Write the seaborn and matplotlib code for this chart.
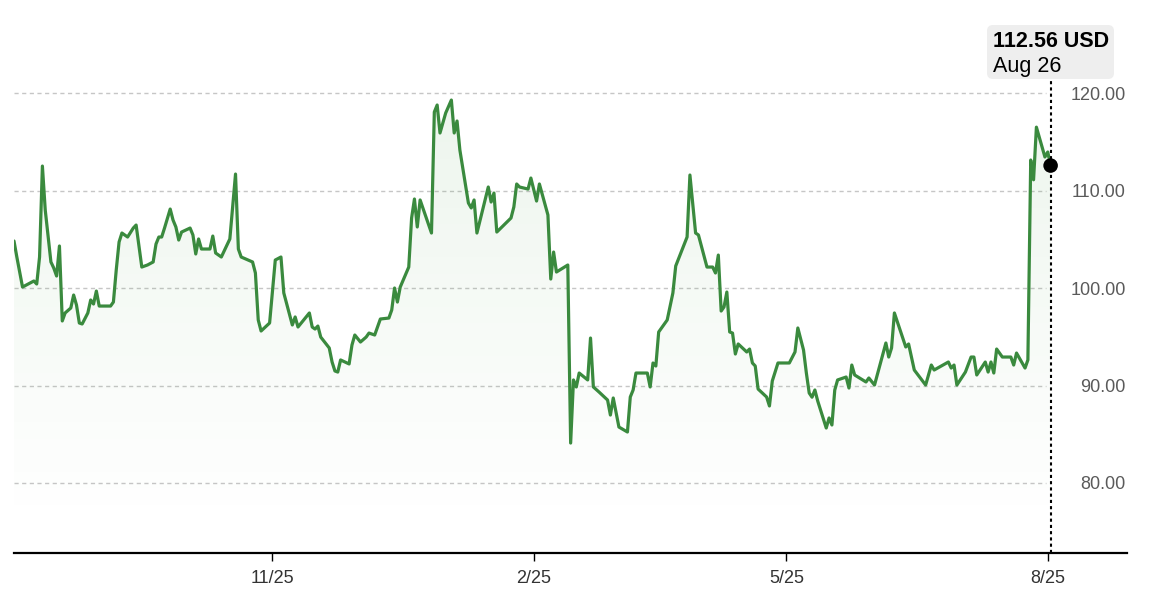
import numpy as np
import pandas as pd
import matplotlib
matplotlib.use("Agg")
import matplotlib.pyplot as plt
import matplotlib.dates as mdates
from matplotlib.patches import FancyBboxPatch
from matplotlib.colors import LinearSegmentedColormap
import seaborn as sns

# ---------------- data ----------------
start_date = "2024-08-26"
day_offsets = [
    0, 1, 3, 5, 7, 8, 9, 10, 11, 13,
    14, 15, 16, 17, 18, 20, 21, 22, 23, 24,
    26, 27, 28, 29, 30, 34, 35, 36, 37, 38,
    40, 42, 43, 45, 47, 49, 50, 51, 52, 53,
    55, 56, 57, 58, 59, 62, 63, 64, 65, 66,
    69, 70, 71, 73, 76, 78, 79, 80, 84, 85,
    86, 87, 90, 92, 94, 95, 98, 99, 100, 104,
    105, 106, 107, 108, 111, 112, 113, 114, 115, 118,
    119, 120, 122, 124, 125, 127, 129, 132, 133, 134,
    135, 136, 139, 140, 141, 142, 143, 147, 148, 149,
    150, 152, 154, 155, 156, 157, 160, 161, 162, 163,
    167, 168, 169, 170, 175, 176, 177, 178, 181, 182,
    184, 185, 188, 189, 190, 191, 195, 196, 197, 198,
    199, 202, 203, 204, 206, 209, 210, 211, 213, 216,
    217, 218, 219, 223, 224, 225, 226, 227, 230, 232,
    233, 237, 238, 240, 241, 244, 246, 247, 248, 249,
    250, 251, 252, 253, 254, 255, 258, 259, 260, 261,
    262, 265, 266, 267, 269, 273, 275, 276, 278, 279,
    280, 281, 282, 283, 286, 287, 288, 289, 290, 293,
    294, 295, 296, 300, 301, 303, 307, 308, 309, 310,
    314, 315, 317, 321, 323, 324, 329, 330, 331, 332,
    335, 337, 338, 339, 342, 343, 344, 345, 346, 348,
    351, 352, 353, 356, 357, 358, 359, 360, 363, 364,
    365,
]
prices = [
    104.82, 103.18, 100.10, 100.41, 100.72, 100.41, 103.18, 112.51, 108.0, 102.67,
    102.05, 101.23, 104.31, 96.62, 97.44, 97.95, 99.28, 98.26, 96.41, 96.31,
    97.44, 98.77, 98.36, 99.69, 98.15, 98.15, 98.56, 101.85, 104.72, 105.64,
    105.23, 106.15, 106.46, 102.15, 102.36, 102.67, 104.51, 105.23, 105.23, 106.15,
    108.10, 106.97, 106.26, 104.92, 105.74, 106.15, 105.44, 103.49, 105.03, 104.0,
    104.0, 105.33, 103.59, 103.18, 105.03, 111.69, 104.0, 103.18, 102.67, 101.54,
    96.72, 95.59, 96.41, 102.87, 103.18, 99.49, 96.21, 97.03, 96.0, 97.44,
    96.0, 95.79, 96.10, 94.97, 93.85, 92.41, 91.49, 91.38, 92.62, 92.21,
    94.15, 95.18, 94.46, 94.97, 95.38, 95.18, 96.82, 96.92, 97.74, 100.0,
    98.56, 100.10, 102.15, 107.18, 109.13, 106.26, 109.03, 105.64, 118.05, 118.77,
    115.90, 117.95, 119.28, 115.90, 117.13, 114.15, 108.72, 108.21, 109.03, 105.64,
    110.36, 108.82, 109.74, 105.74, 107.18, 108.31, 110.67, 110.36, 110.15, 111.28,
    108.92, 110.67, 107.49, 100.92, 103.69, 101.64, 102.36, 84.10, 90.57, 89.85,
    91.28, 90.57, 94.87, 89.85, 89.33, 88.51, 86.97, 88.72, 85.74, 85.23,
    88.82, 89.54, 91.28, 91.28, 89.85, 92.31, 92.0, 95.49, 96.72, 99.49,
    102.26, 105.23, 111.59, 105.64, 105.44, 102.15, 102.15, 101.54, 103.38, 97.64,
    98.05, 99.59, 95.49, 95.38, 93.23, 94.26, 93.44, 93.74, 92.31, 92.0,
    89.64, 88.82, 87.90, 90.46, 92.31, 92.31, 93.44, 95.90, 93.64, 91.28,
    89.23, 88.8, 89.54, 88.41, 85.64, 86.67, 85.95, 89.54, 90.57, 90.87,
    89.74, 92.10, 91.08, 90.36, 90.77, 90.05, 94.36, 92.92, 93.85, 97.44,
    93.95, 94.26, 91.59, 90.05, 92.10, 91.59, 92.41, 91.79, 92.10, 90.05,
    91.38, 92.92, 92.92, 91.08, 92.41, 91.38, 92.41, 91.28, 93.74, 92.92,
    92.92, 92.10, 93.33, 91.79, 92.62, 113.13, 111.1, 116.5, 113.44, 113.95,
    112.56,
]
y_ticks = [80, 90, 100, 110, 120]
x_tick_dates = ["2024-11-25", "2025-02-25", "2025-05-25", "2025-08-25"]
x_tick_labels = ["11/25", "2/25", "5/25", "8/25"]
tooltip_value = "112.56 USD"
tooltip_date = "Aug 26"

assert len(day_offsets) == len(prices)

# ---------------- style ----------------
sns.set_theme(style="white")
plt.rcParams["font.family"] = ["Liberation Sans", "DejaVu Sans"]

dates = pd.to_datetime(start_date) + pd.to_timedelta(day_offsets, unit="D")
df = pd.DataFrame({"date": dates, "price": prices})

W, H = 1164, 614
fig = plt.figure(figsize=(W / 100, H / 100), dpi=100)
ax_left, ax_right, ax_top, ax_bottom = 14, 1127, 20, 553
ax = fig.add_axes([ax_left / W, (H - ax_bottom) / H,
                   (ax_right - ax_left) / W, (ax_bottom - ax_top) / H])

line_color = "#3a8a3e"
ymin, ymax = 72.82, 127.49

# gradient fill under the line
xnum = mdates.date2num(df["date"])
poly = ax.fill_between(df["date"], df["price"], ymin, color="none", lw=0)
grad = np.linspace(0, 1, 256).reshape(-1, 1)
cmap = LinearSegmentedColormap.from_list(
    "g", [(0.3, 0.62, 0.3, 0.0), (0.3, 0.62, 0.3, 0.10)])
im = ax.imshow(grad, extent=[xnum[0], xnum[-1], 76, max(prices)],
               origin="lower", aspect="auto", cmap=cmap, zorder=1,
               interpolation="bilinear")
im.set_clip_path(poly.get_paths()[0], transform=ax.transData)

sns.lineplot(data=df, x="date", y="price", color=line_color, linewidth=2.3,
             ax=ax, zorder=3)

# grid lines
for v in y_ticks:
    ax.axhline(v, xmin=0, xmax=0.927, color="#c6c6c6", lw=1.0,
               ls=(0, (3, 2.5)), zorder=0.5)

start = pd.to_datetime(start_date)
ax.set_xlim(start, start + pd.Timedelta(days=391.9))
ax.set_ylim(ymin, ymax)

# y labels on the right, right-aligned to axes edge
ax.set_yticks(y_ticks)
ax.set_yticklabels([f"{v:.2f}" for v in y_ticks])
ax.yaxis.tick_right()
ax.tick_params(axis="y", length=0, pad=-1, labelsize=13, labelcolor="#5a5a5a")
for t in ax.get_yticklabels():
    t.set_horizontalalignment("right")

# x ticks
ax.set_xticks(pd.to_datetime(x_tick_dates))
ax.set_xticklabels(x_tick_labels)
ax.tick_params(axis="x", bottom=True, length=6, width=1.0, color="black",
               labelsize=13, labelcolor="#333333", pad=6, direction="out")

ax.set_xlabel("")
ax.set_ylabel("")
for s in ["top", "left", "right"]:
    ax.spines[s].set_visible(False)
ax.spines["bottom"].set_color("black")
ax.spines["bottom"].set_linewidth(1.6)
ax.grid(False)
ax.set_facecolor("white")

# hover marker
last_date = df["date"].iloc[-1]
last_price = df["price"].iloc[-1]
ax.axvline(last_date, ymin=0, ymax=(ax_bottom - 79) / (ax_bottom - ax_top),
           color="black", lw=1.5, ls=(0, (1.5, 1.5)), zorder=4)
ax.scatter([last_date], [last_price], s=110, color="black", zorder=6,
           edgecolor="none")

# tooltip box
box = FancyBboxPatch((987 / 100, (H - 79) / 100), 127 / 100, 54 / 100,
                     boxstyle="round,pad=0,rounding_size=0.06",
                     transform=fig.dpi_scale_trans, facecolor="#eeeeee",
                     edgecolor="none", zorder=10)
fig.patches.append(box)
fig.text(993 / W, 1 - 47 / H, tooltip_value, fontsize=15.5, weight="bold",
         color="black", va="baseline", ha="left", zorder=11)
fig.text(993 / W, 1 - 72 / H, tooltip_date, fontsize=15.5, color="black",
         va="baseline", ha="left", zorder=11)

fig.savefig("out.png", dpi=100, facecolor="white")
